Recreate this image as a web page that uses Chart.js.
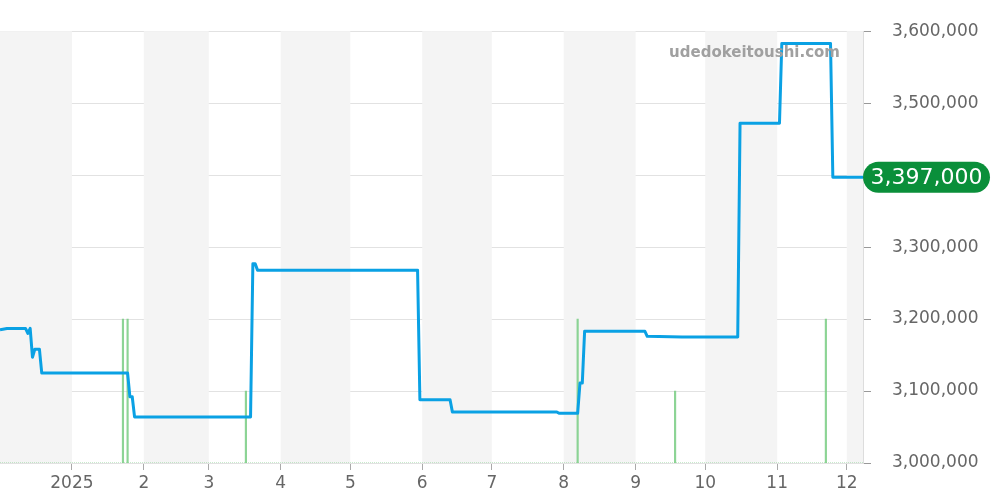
<!DOCTYPE html>
<html>
<head>
<meta charset="utf-8">
<script src="https://cdn.jsdelivr.net/npm/chart.js@4/dist/chart.umd.min.js"></script>
<style>
  html, body { margin: 0; padding: 0; background: #fff; }
  #wrap { width: 1000px; height: 500px; position: relative; }
</style>
</head>
<body>
<div id="wrap"><canvas id="c" width="1000" height="500"></canvas></div>
<script>
// ---- data ----
const axisStart = "2024-12-01";
const axisEnd = "2025-12-08";
const monthTicks = ["2025-01-01","2025-02-01","2025-03-01","2025-04-01","2025-05-01","2025-06-01",
                    "2025-07-01","2025-08-01","2025-09-01","2025-10-01","2025-11-01","2025-12-01"];
const monthLabels = ["2025","2","3","4","5","6","7","8","9","10","11","12"];

const priceDates = ["2024-12-01","2024-12-04","2024-12-12","2024-12-13","2024-12-14","2024-12-15",
  "2024-12-16","2024-12-18","2024-12-19","2025-01-25","2025-01-26","2025-01-27","2025-01-28",
  "2025-03-19","2025-03-20","2025-03-21","2025-03-22","2025-05-30","2025-05-31","2025-06-13",
  "2025-06-14","2025-07-29","2025-07-30","2025-08-07","2025-08-08","2025-08-09","2025-08-10",
  "2025-09-05","2025-09-06","2025-09-21","2025-10-15","2025-10-16","2025-11-02","2025-11-03",
  "2025-11-24","2025-11-25","2025-12-08"];
const prices = [3185000,3187000,3187000,3180000,3187000,3147000,
  3158000,3158000,3125000,3125000,3092000,3092000,3064000,
  3064000,3277000,3277000,3268000,3268000,3088000,3088000,
  3071000,3071000,3069000,3069000,3111000,3111000,3183000,
  3183000,3176000,3175000,3175000,3472000,3472000,3583000,
  3583000,3397000,3397000];

const volumeDates = ["2025-01-23","2025-01-25","2025-03-17","2025-08-07","2025-09-18","2025-11-22"];
const volumes = [2,2,1,2,1,2];

const priceMin = 3000000, priceMax = 3600000, priceStep = 100000;
const volumeMax = 6;
const watermark = "udedokeitoushi.com";

// ---- helpers ----
const dayMs = 86400000;
const t0 = Date.parse(axisStart + "T00:00:00Z");
const dayIndex = s => (Date.parse(s + "T00:00:00Z") - t0) / dayMs;
const fmt = v => Math.round(v).toLocaleString('en-US');

const priceData = priceDates.map((d, i) => ({ x: dayIndex(d), y: prices[i] }));
const volumeData = volumeDates.map((d, i) => ({ x: dayIndex(d), y: volumes[i] }));
const zeroLine = [{ x: 0, y: 0 }, { x: dayIndex(axisEnd), y: 0 }];
const tickValues = monthTicks.map(dayIndex);

const FONT = "'DejaVu Sans', sans-serif";

const bandsPlugin = {
  id: 'bands',
  beforeDatasetsDraw(chart) {
    const { ctx, chartArea: a, scales: { x } } = chart;
    const bounds = [0, ...tickValues, dayIndex(axisEnd)];
    ctx.save();
    ctx.fillStyle = '#f4f4f4';
    for (let i = 0; i < bounds.length - 1; i++) {
      if (i % 2 !== 0) continue;
      const x1 = Math.max(a.left, x.getPixelForValue(bounds[i]));
      const x2 = Math.min(a.right, x.getPixelForValue(bounds[i + 1]));
      ctx.fillRect(x1, a.top, x2 - x1, a.bottom - a.top);
    }
    ctx.restore();
  }
};

const overlayPlugin = {
  id: 'overlay',
  afterDraw(chart) {
    const { ctx, chartArea: a, scales: { y } } = chart;
    ctx.save();
    // watermark
    ctx.font = "bold 15px " + FONT;
    ctx.fillStyle = '#a0a0a0';
    ctx.textAlign = 'right';
    ctx.textBaseline = 'middle';
    ctx.fillText(watermark, a.right - 23, 53);
    // last price badge
    const last = prices[prices.length - 1];
    const py = y.getPixelForValue(last);
    const x1 = a.right, w = 127, h = 31, r = 15.5;
    ctx.fillStyle = '#0a8f3a';
    ctx.beginPath();
    ctx.roundRect(x1, py - h / 2, w, h, r);
    ctx.fill();
    ctx.fillStyle = '#ffffff';
    ctx.font = "22px " + FONT;
    ctx.textAlign = 'center';
    ctx.fillText(fmt(last), x1 + w / 2, py + 1);
    ctx.restore();
  }
};

new Chart(document.getElementById('c'), {
  type: 'bar',
  data: {
    datasets: [
      {
        type: 'line', data: priceData, yAxisID: 'y',
        borderColor: '#0aa1e4', borderWidth: 3, pointRadius: 0, tension: 0,
        borderJoinStyle: 'round', order: 0
      },
      {
        type: 'bar', data: volumeData, yAxisID: 'v',
        backgroundColor: 'rgba(120,205,130,0.85)', barThickness: 1.5, order: 1
      },
      {
        type: 'line', data: zeroLine, yAxisID: 'v',
        borderColor: 'rgba(120,205,130,0.8)', borderWidth: 1, borderDash: [1, 1],
        pointRadius: 0, order: 2
      }
    ]
  },
  options: {
    responsive: false,
    animation: false,
    layout: { padding: { top: 31, left: 0, right: 0, bottom: 0 } },
    plugins: { legend: { display: false }, tooltip: { enabled: false } },
    scales: {
      x: {
        type: 'linear', min: 0, max: dayIndex(axisEnd), offset: false,
        afterBuildTicks(scale) { scale.ticks = tickValues.map(v => ({ value: v })); },
        afterFit(scale) { scale.height = 37; },
        ticks: {
          autoSkip: false, maxRotation: 0, padding: 3,
          font: { family: FONT, size: 17 }, color: '#666',
          callback(v) { const i = tickValues.indexOf(v); return i >= 0 ? monthLabels[i] : ''; }
        },
        grid: { offset: false, drawOnChartArea: false, tickLength: 7, color: '#aaa', tickColor: '#aaa' },
        border: { display: false }
      },
      y: {
        type: 'linear', position: 'right', min: priceMin, max: priceMax,
        afterFit(scale) { scale.width = 137; },
        ticks: {
          stepSize: priceStep, padding: 21,
          font: { family: FONT, size: 17 }, color: '#666',
          callback: v => fmt(v)
        },
        grid: { color: '#e2e2e2', tickColor: '#999', tickLength: 8 },
        border: { display: true, color: '#dddddd', width: 1 }
      },
      v: {
        type: 'linear', display: false, min: 0, max: volumeMax
      }
    }
  },
  plugins: [bandsPlugin, overlayPlugin]
});
</script>
</body>
</html>
